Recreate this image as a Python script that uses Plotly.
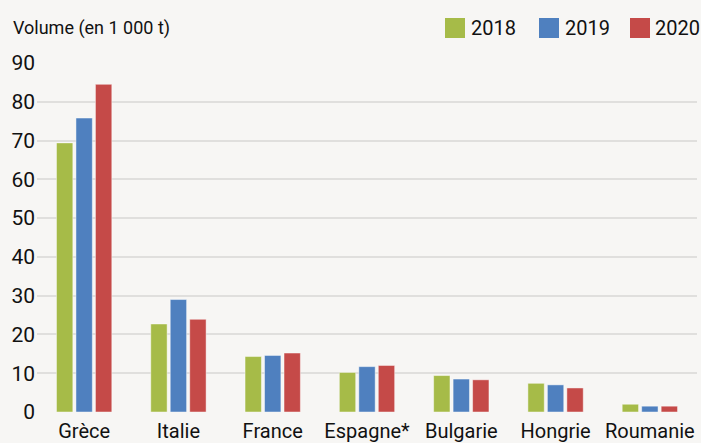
import plotly.graph_objects as go

categories = ["Grèce", "Italie", "France", "Espagne*", "Bulgarie", "Hongrie", "Roumanie"]
years = ["2018", "2019", "2020"]
v2018 = [69.4, 22.7, 14.3, 10.2, 9.4, 7.4, 2.0]
v2019 = [75.8, 29.0, 14.6, 11.7, 8.5, 7.0, 1.5]
v2020 = [84.5, 23.9, 15.2, 12.0, 8.3, 6.2, 1.5]
colors = ["#a6bb48", "#4f80bf", "#c54a48"]
y_ticks = [0, 10, 20, 30, 40, 50, 60, 70, 80, 90]
y_title = "Volume (en 1 000 t)"

W, H = 701, 443
L, R, T, B = 37, 4, 63, 31
PW, PH = W - L - R, H - T - B

FONT = "Roboto, 'Liberation Sans Narrow', sans-serif"
TXT = "#111111"
BG = "#f7f6f4"


def px_x(p):
    return (p - L) / PW


def px_y(p):
    return (H - B - p) / PH


fig = go.Figure()
for name, vals, col in zip(years, [v2018, v2019, v2020], colors):
    fig.add_trace(go.Bar(
        x=categories, y=vals, name=name,
        marker=dict(color=col, line=dict(color="rgba(255,255,255,0.45)", width=1)),
        showlegend=False, hoverinfo="skip",
    ))

shapes = []
annotations = []
legend_sq_x = [445, 539, 630]
legend_txt_x = [474, 568, 658]
for name, col, sx, tx in zip(years, colors, legend_sq_x, legend_txt_x):
    shapes.append(dict(type="rect", xref="paper", yref="paper",
                       x0=px_x(sx), x1=px_x(sx + 20), y0=px_y(38), y1=px_y(18),
                       fillcolor=col, line=dict(width=0)))
    annotations.append(dict(text=name, xref="paper", yref="paper",
                            x=px_x(tx - 5), y=px_y(28), xanchor="left", yanchor="middle",
                            showarrow=False, font=dict(size=20, color=TXT, family=FONT)))

annotations.append(dict(text=y_title, xref="paper", yref="paper",
                        x=px_x(11), y=px_y(28), xanchor="left", yanchor="middle",
                        showarrow=False, font=dict(size=18, color=TXT, family=FONT)))

fig.update_layout(
    width=W, height=H,
    margin=dict(l=L, r=R, t=T, b=B, pad=0, autoexpand=False),
    paper_bgcolor=BG, plot_bgcolor=BG,
    barmode="group", bargap=0.38, bargroupgap=0.16,
    font=dict(family=FONT, color=TXT, size=20),
    shapes=shapes, annotations=annotations,
    xaxis=dict(showgrid=False, showline=False, zeroline=False, ticks="",
               tickangle=0, automargin=False, ticklabelstandoff=5,
               tickfont=dict(size=20, color=TXT, family=FONT)),
    yaxis=dict(range=[0, 90], tickvals=y_ticks, showgrid=True, gridcolor="#e0dfdd",
               gridwidth=2, zeroline=False, showline=False, ticks="", automargin=False,
               tickfont=dict(size=21, color=TXT, family=FONT), ticklabelstandoff=1),
)

fig.write_html(
    "out.html",
    config={"displayModeBar": False, "staticPlot": True},
    post_script="document.body.style.margin='0';document.body.style.overflow='hidden';"
                "document.body.style.background='" + BG + "';",
)
